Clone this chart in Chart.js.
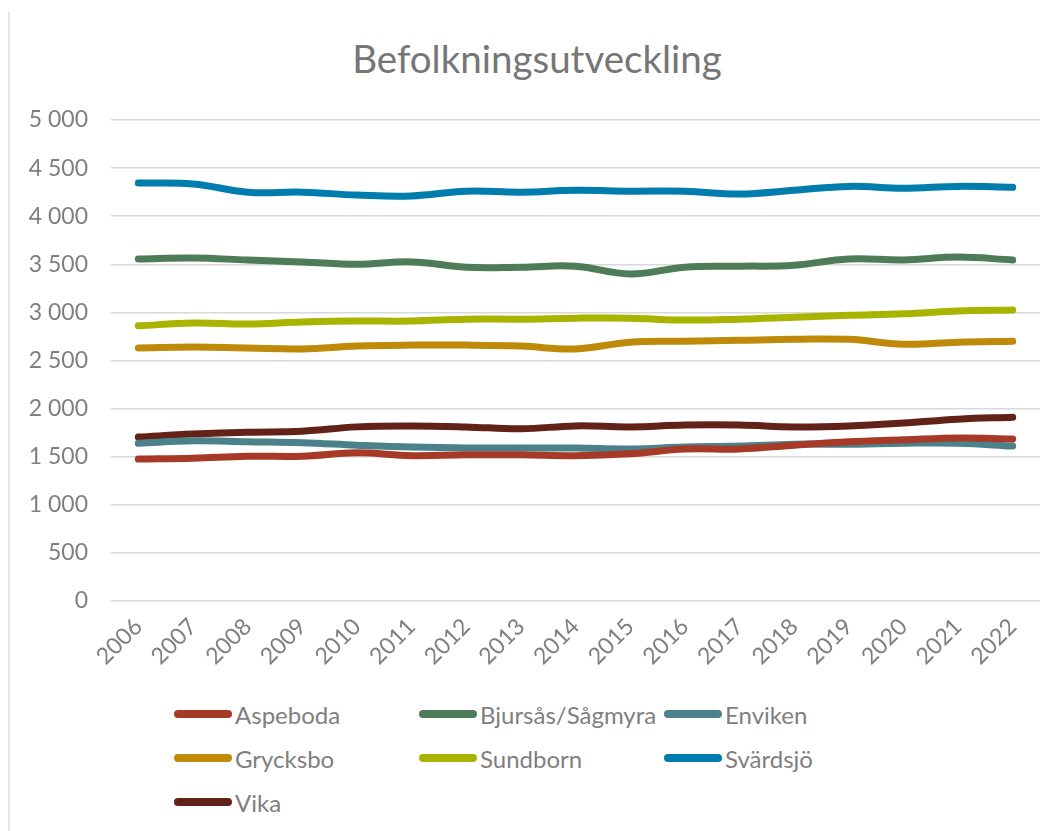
<!DOCTYPE html>
<html lang="sv">
<head>
<meta charset="UTF-8">
<title>Befolkningsutveckling</title>
<script src="https://cdn.jsdelivr.net/npm/chart.js"></script>
<style>
  html, body { margin: 0; padding: 0; background: #fff; }
  body { width: 1054px; height: 831px; position: relative; overflow: hidden; font-family: Lato, "Noto Sans", sans-serif; }
  .frame { position: absolute; left: 8px; top: 12px; bottom: 0; border-left: 2px solid #e3e3e3; }
  .title { position: absolute; left: 0; width: 1074px; top: 35px; text-align: center; font-size: 38.5px; line-height: 46px; color: #767676; }
  .chart-box { position: absolute; left: 0; top: 0; width: 1054px; height: 690px; }
  .legend { position: absolute; left: 174px; top: 702px; display: grid; grid-template-columns: 245px 245px 245px; row-gap: 20px; }
  .legend .item { display: flex; align-items: center; height: 24px; font-size: 24px; color: #7f7f7f; white-space: nowrap; }
  .legend .swatch { width: 58px; height: 8px; border-radius: 4px; margin-right: 3px; }
</style>
</head>
<body>
<div class="frame"></div>
<div class="title">Befolkningsutveckling</div>
<div class="chart-box"><canvas id="popChart"></canvas></div>
<div class="legend" id="legend"></div>

<script>
// år
const years = ["2006","2007","2008","2009","2010","2011","2012","2013","2014","2015","2016","2017","2018","2019","2020","2021","2022"];

// befolkning per ort
const aspeboda = [1475,1485,1505,1505,1540,1510,1520,1520,1510,1530,1580,1580,1620,1655,1675,1695,1685];
const bjursas  = [3555,3565,3545,3525,3500,3525,3470,3470,3480,3400,3470,3480,3490,3555,3545,3575,3545];
const enviken  = [1640,1665,1655,1645,1620,1600,1590,1590,1590,1580,1600,1610,1630,1630,1640,1640,1610];
const grycksbo = [2630,2640,2630,2620,2650,2660,2660,2650,2620,2690,2700,2710,2720,2720,2670,2690,2700];
const sundborn = [2860,2890,2880,2900,2910,2910,2930,2930,2940,2940,2920,2930,2950,2970,2985,3015,3025];
const svardsjo = [4345,4335,4250,4250,4220,4210,4260,4250,4270,4260,4260,4230,4270,4310,4290,4310,4300];
const vika     = [1705,1735,1755,1765,1810,1820,1810,1790,1820,1810,1830,1830,1810,1820,1850,1890,1910];

const names  = ["Aspeboda","Bjursås/Sågmyra","Enviken","Grycksbo","Sundborn","Svärdsjö","Vika"];
const series = [aspeboda, bjursas, enviken, grycksbo, sundborn, svardsjo, vika];
const colors = ["#a63a27","#4e7b58","#4a818b","#bf8a0a","#a9b400","#007dad","#632217"];

const yTicks = [0,500,1000,1500,2000,2500,3000,3500,4000,4500,5000];

const fmt = v => String(v).replace(/\B(?=(\d{3})+(?!\d))/g, " ");

const datasets = series.map((d, i) => ({
    label: names[i],
    data: d,
    borderColor: colors[i],
    backgroundColor: colors[i],
    borderWidth: 7,
    borderCapStyle: "round",
    borderJoinStyle: "round",
    pointRadius: 0,
    pointHoverRadius: 0,
    tension: 0.4,
    fill: false
}));

// legend i HTML, tre kolumner som i originalet
document.getElementById("legend").innerHTML = names.map((n, i) =>
    `<div class="item"><span class="swatch" style="background:${colors[i]}"></span>${n}</div>`
).join("");

const gray = "#7f7f7f";

new Chart(document.getElementById("popChart"), {
    type: "line",
    data: { labels: years, datasets: datasets },
    options: {
        responsive: true,
        maintainAspectRatio: false,
        animation: false,
        // titeln ligger i HTML ovanför, plats reserveras med top-padding
        layout: { padding: { left: 0, right: 14, top: 120, bottom: 0 } },
        plugins: {
            legend: { display: false },
            tooltip: { enabled: false },
            title: { display: false }
        },
        scales: {
            x: {
                offset: true,
                grid: { display: false },
                border: { display: false },
                ticks: {
                    color: gray,
                    font: { family: "Lato", size: 23 },
                    minRotation: 45,
                    maxRotation: 45,
                    padding: 4
                },
                afterFit: s => { s.height = 89; }
            },
            y: {
                min: 0,
                max: 5000,
                afterBuildTicks: s => { s.ticks = yTicks.map(v => ({ value: v })); },
                grid: { color: "#d9d9d9", lineWidth: 1.5, drawTicks: false },
                border: { display: false },
                ticks: {
                    color: gray,
                    font: { family: "Lato", size: 23 },
                    padding: 23,
                    callback: v => fmt(v)
                },
                afterFit: s => { s.width = 111; }
            }
        }
    }
});
</script>
</body>
</html>
